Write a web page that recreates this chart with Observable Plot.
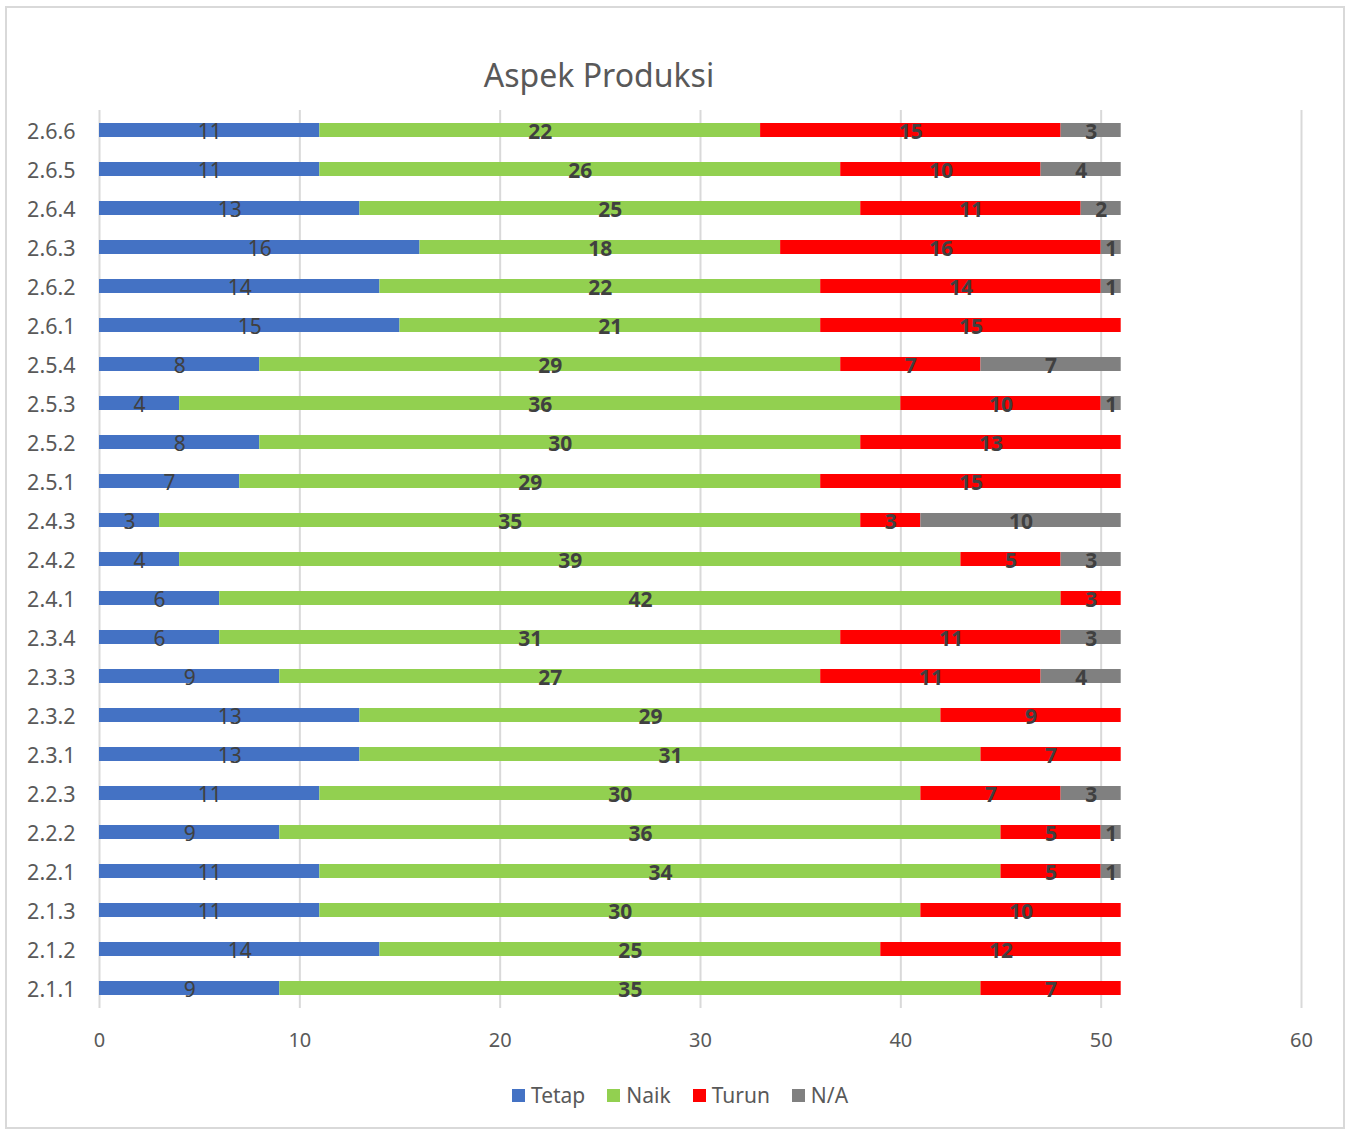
<!DOCTYPE html>
<html>
<head>
<meta charset="utf-8">
<script src="https://cdn.jsdelivr.net/npm/d3@7"></script>
<script src="https://cdn.jsdelivr.net/npm/@observablehq/plot@0.6"></script>
<style>
  body { margin: 0; background: #fff; font-family: "Noto Sans", sans-serif; }
  #frame { position: absolute; left: 5px; top: 6px; width: 1340px; height: 1123px; border: 2px solid #d9d9d9; box-sizing: border-box; }
  #title { position: absolute; left: 0; top: 53px; width: 1198px; text-align: center; font-size: 32px; color: #595959; }
  #chart { position: absolute; left: 0; top: 100px; }
  #legend { position: absolute; left: 0; top: 1081px; width: 1360px; display: flex; justify-content: center; gap: 22px; font-size: 21px; color: #595959; }
  #legend .item { display: flex; align-items: center; gap: 6px; }
  #legend .sw { width: 13px; height: 13px; display: inline-block; }
</style>
</head>
<body>
<div id="frame"></div>
<div id="title">Aspek Produksi</div>
<div id="chart"></div>
<div id="legend"></div>
<script>
const categories = ["2.6.6","2.6.5","2.6.4","2.6.3","2.6.2","2.6.1","2.5.4","2.5.3","2.5.2","2.5.1","2.4.3","2.4.2","2.4.1","2.3.4","2.3.3","2.3.2","2.3.1","2.2.3","2.2.2","2.2.1","2.1.3","2.1.2","2.1.1"];
const seriesNames = ["Tetap","Naik","Turun","N/A"];
const seriesColors = ["#4472C4","#92D050","#FF0000","#808080"];
const tetap = [11,11,13,16,14,15,8,4,8,7,3,4,6,6,9,13,13,11,9,11,11,14,9];
const naik  = [22,26,25,18,22,21,29,36,30,29,35,39,42,31,27,29,31,30,36,34,30,25,35];
const turun = [15,10,11,16,14,15,7,10,13,15,3,5,3,11,11,9,7,7,5,5,10,12,7];
const na    = [3,4,2,1,1,0,7,1,0,0,10,3,0,3,4,0,0,3,1,1,0,0,0];
const xTicks = [0,10,20,30,40,50,60];

const seriesValues = [tetap, naik, turun, na];
const data = [];
categories.forEach((c, i) => {
  seriesNames.forEach((s, j) => data.push({cat: c, series: s, value: seriesValues[j][i]}));
});

const stackOpts = {y: "cat", x: "value", z: "series", order: seriesNames};

const plot = Plot.plot({
  width: 1352,
  height: 960,
  marginLeft: 99,
  marginRight: 51,
  marginTop: 10,
  marginBottom: 52,
  style: {fontFamily: "Noto Sans, sans-serif", fontSize: "20px", color: "#595959", background: "transparent"},
  x: {domain: [0, 60], ticks: xTicks, label: null},
  y: {domain: categories, paddingInner: 0.65, paddingOuter: 0.325, label: null},
  color: {domain: seriesNames, range: seriesColors},
  marks: [
    Plot.gridX(xTicks, {stroke: "#d9d9d9", strokeWidth: 2, strokeOpacity: 1}),
    Plot.barX(data, Plot.stackX({...stackOpts, fill: "series"})),
    Plot.text(data, Plot.stackX({...stackOpts,
      text: d => (d.series === "Tetap" && d.value > 0) ? String(d.value) : "",
      fill: "#404040", fontSize: 21, dy: 2})),
    Plot.text(data, Plot.stackX({...stackOpts,
      text: d => (d.series !== "Tetap" && d.value > 0) ? String(d.value) : "",
      fill: "#404040", fontSize: 21, fontWeight: "bold", dy: 2})),
    Plot.axisX({ticks: xTicks, tickSize: 0, tickPadding: 24, fill: "#595959", fontSize: 20, label: null}),
    Plot.axisY({tickSize: 0, tickPadding: 24, fill: "#595959", fontSize: 21.5, dy: 1.5, label: null})
  ]
});
document.getElementById("chart").appendChild(plot);

const legend = document.getElementById("legend");
seriesNames.forEach((s, j) => {
  const item = document.createElement("div");
  item.className = "item";
  const sw = document.createElement("span");
  sw.className = "sw";
  sw.style.background = seriesColors[j];
  const t = document.createElement("span");
  t.textContent = s;
  item.appendChild(sw);
  item.appendChild(t);
  legend.appendChild(item);
});
</script>
</body>
</html>
